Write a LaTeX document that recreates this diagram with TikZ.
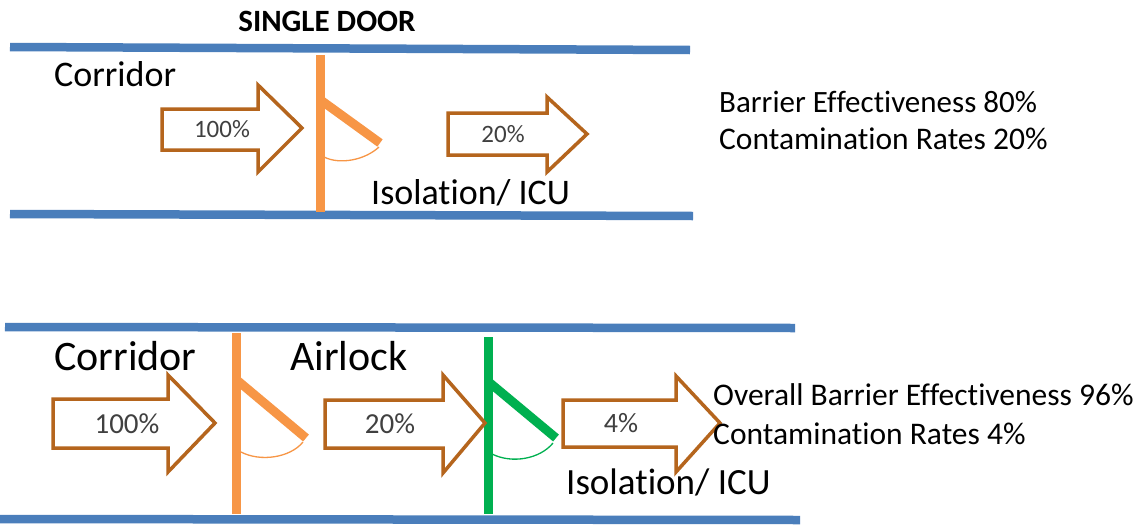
\documentclass[tikz,border=0pt]{standalone}
\usepackage{fontspec}
\setmainfont[Ligatures={NoCommon,NoContextual}]{Carlito}
\definecolor{wallblue}{HTML}{4A7EBB}
\definecolor{doororange}{HTML}{F79646}
\definecolor{doorgreen}{HTML}{00B050}
\definecolor{arrowbrown}{HTML}{B5651D}
\definecolor{pctgray}{HTML}{404040}
\tikzset{
  wall/.style={wallblue, line width=8.5pt},
  doorpost/.style={line width=9pt},
  leaf/.style={line width=9pt},
  swing/.style={line width=1.3pt},
  blockarr/.style={draw=arrowbrown, line width=3.5pt, fill=white, line join=miter},
  pct/.style={text=pctgray, inner sep=0pt},
  lbl/.style={inner sep=0pt, anchor=base west},
}
\newcommand{\fs}[1]{\fontsize{#1}{#1}\selectfont}
\newcommand{\nk}{\kern0pt }
\begin{document}
\begin{tikzpicture}[x=1pt,y=-1pt]
\useasboundingbox (0,0) rectangle (1145,525);
\fill[white] (0,0) rectangle (1145,525);

% ---------- top: single door ----------
\node[inner sep=0pt, anchor=base] (title) at (327,31) {\fs{31}\bfseries SINGLE DOOR};
\coordinate (tw1) at (10,47); \coordinate (tw2) at (690,50);
\coordinate (bw1) at (10,214); \coordinate (bw2) at (693,216);
\draw[wall] (tw1) -- (tw2);
\draw[wall] (bw1) -- (bw2);

\node[lbl] (cor1) at (54,86) {\fs{36}Corridor};

% door
\coordinate (d1t) at (320,55); \coordinate (d1b) at (320,212);
\coordinate (d1h) at (322,101); \coordinate (d1e) at (380,143);
\draw[doororange, doorpost] (d1t) -- (d1b);
\draw[doororange, leaf] (d1h) -- (d1e);
\draw[doororange, swing] (324,157) .. controls (340,165) and (365,160) .. (379,147);

% arrows
\draw[blockarr] (162,109) -- (258,109) -- (258,85) -- (302,128) -- (258,172) -- (258,150) -- (162,150) -- cycle;
\node[pct] (p100a) at (222,129.5) {\fs{25}100\%};
\draw[blockarr] (448,113) -- (547,113) -- (547,97) -- (587,134) -- (547,172) -- (547,155) -- (448,155) -- cycle;
\node[pct] (p20a) at (503,134) {\fs{25}20\%};

\node[lbl] (iso1) at (371,204) {\fs{36}Isolation/ ICU};
\node[lbl] (be1) at (719,112) {\fs{31}Barrier Ef\nk fec\nk t\nk iveness 80\%};
\node[lbl] (cr1) at (719,149) {\fs{31.5}Contaminat\nk ion Rates 20\%};

% ---------- bottom: airlock ----------
\coordinate (tw3) at (5,327); \coordinate (tw4) at (795,328);
\coordinate (bw3) at (0,519); \coordinate (bw4) at (800,520);
\draw[wall] (tw3) -- (tw4);
\draw[wall] (bw3) -- (bw4);

\node[lbl] (cor2) at (54,370) {\fs{42}Corridor};
\node[lbl] (air) at (290,370) {\fs{42}Airlock};

% orange door
\coordinate (d2t) at (236,333); \coordinate (d2b) at (236,514);
\draw[doororange, doorpost] (d2t) -- (d2b);
\draw[doororange, leaf] (238,381) -- (306,438);
\draw[doororange, swing] (241,452) .. controls (260,462) and (290,458) .. (303,442);

% green door
\coordinate (d3t) at (488,337); \coordinate (d3b) at (488,514);
\draw[doorgreen, doorpost] (d3t) -- (d3b);
\draw[doorgreen, leaf] (490,383) -- (556,438);
\draw[doorgreen, swing] (492,454) .. controls (512,464) and (540,459) .. (553,443);

% arrows
\draw[blockarr] (53,399) -- (168,399) -- (168,375) -- (215,423) -- (168,472) -- (168,448) -- (53,448) -- cycle;
\node[pct] (p100b) at (127,423.5) {\fs{29}100\%};
\draw[blockarr] (325,400) -- (443,400) -- (443,375) -- (485,423) -- (443,473) -- (443,448) -- (325,448) -- cycle;
\node[pct] (p20b) at (390,424) {\fs{29}20\%};
\draw[blockarr] (563,400) -- (676,400) -- (676,376) -- (720,423) -- (676,472) -- (676,447) -- (563,447) -- cycle;
\node[pct] (p4) at (621,423.5) {\fs{28}4\%};

\node[lbl] (obe) at (713,405) {\fs{31.5}Overall Barrier Ef\nk fec\nk t\nk iveness 96\%};
\node[lbl] (cr2) at (713,444) {\fs{31.5}Contaminat\nk ion Rates 4\%};
\node[lbl] (iso2) at (566,494) {\fs{37}Isolation/ ICU};
\end{tikzpicture}
\end{document}
